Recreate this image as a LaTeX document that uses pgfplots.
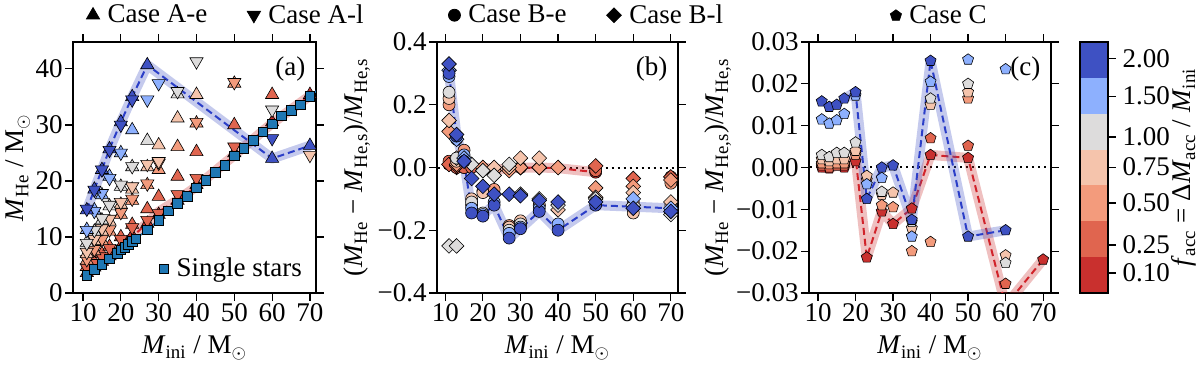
\documentclass[border=0pt]{standalone}
\usepackage{fontspec}
\setmainfont{Liberation Serif}
\usepackage{pgfplots}
\pgfplotsset{compat=1.18}

\definecolor{c010}{HTML}{C9302E}
\definecolor{c025}{HTML}{E0654F}
\definecolor{c050}{HTML}{F39B7C}
\definecolor{c075}{HTML}{F5C4AC}
\definecolor{c100}{HTML}{DDDCDC}
\definecolor{c150}{HTML}{8DB0FE}
\definecolor{c200}{HTML}{3E51C3}
\definecolor{dashB}{HTML}{2B3EC8}
\definecolor{dashR}{HTML}{D1232A}
\definecolor{single}{HTML}{1F77B4}

\pgfplotsset{
  every axis/.append style={font=\fontsize{13.5}{15.5}\selectfont},
  panel/.style={scale only axis, width=#1, height=125.5pt,
    xtick={10,20,...,70}, tick align=outside,
    axis line style={line width=0.6pt}, every tick/.style={black, line width=0.6pt},
    major tick length=3.8pt, scaled ticks=false,
    every tick label/.append style={inner sep=1.2pt},
    /pgf/number format/assume math mode=true,
    xlabel={\textit{M}\textsubscript{ini} / M$_\odot$},
    xlabel style={at={(axis description cs:0.5,-0.219)}, anchor=center},
    legend columns=2, legend cell align=left,
    legend style={draw=none, fill=none, anchor=south west,
      /tikz/column 1/.style={column sep=2pt},
      /tikz/column 2/.style={column sep=18pt},
      /tikz/column 3/.style={column sep=2pt}}},
  ae/.style={forget plot, only marks, mark=triangle*, mark size=3.8pt,
    mark options={fill=#1, draw=black, line width=0.3pt}},
  al/.style={forget plot, only marks, mark=triangle*, mark size=3.8pt,
    mark options={rotate=180, fill=#1, draw=black, line width=0.3pt}},
  be/.style={forget plot, only marks, mark=*, mark size=3pt,
    mark options={fill=#1, draw=black, line width=0.3pt}},
  bl/.style={forget plot, only marks, mark=square*, mark size=2.6pt,
    mark options={rotate=45, fill=#1, draw=black, line width=0.3pt}},
  cp/.style={forget plot, only marks, mark=pentagon*, mark size=2.9pt,
    mark options={fill=#1, draw=black, line width=0.3pt}},
  band/.style={forget plot, no markers, line width=5pt, draw=#1, draw opacity=0.3, line join=round},
  dline/.style={forget plot, no markers, line width=1pt, draw=#1, dash pattern=on 3.5pt off 2pt},
}

\begin{document}
\begin{tikzpicture}

% ---------- (a) ----------
\begin{axis}[panel=121.5pt, at={(0,0)}, xmin=7.35, xmax=71.6, ymin=0, ymax=44.8,
  ytick={0,10,20,30,40}, ylabel={\textit{M}\textsubscript{He} / M$_\odot$},
  ylabel style={at={(axis description cs:-0.226,0.5)}, anchor=center},
  legend columns=1,
  legend style={at={(0.985,0.02)}, anchor=south east}]
\addplot[band=c010] coordinates {(11,3.3) (13,4.3) (15,5.3) (17,6.3) (20,8.0) (23,10.0) (27,12.5) (30,14.5) (35,16.6) (40,19.0) (50,24.6) (60,30.3) (70,35.2)};
\addplot[dline=dashR] coordinates {(11,3.3) (13,4.3) (15,5.3) (17,6.3) (20,8.0) (23,10.0) (27,12.5) (30,14.5) (35,16.6) (40,19.0) (50,24.6) (60,30.3) (70,35.2)};
\addplot[band=c200] coordinates {(11,14.8) (13,18.5) (15,22) (17,25.7) (20,30.5) (23,35) (27,40.7) (60,24) (70,26.3)};
\addplot[dline=dashB] coordinates {(11,14.8) (13,18.5) (15,22) (17,25.7) (20,30.5) (23,35) (27,40.7) (60,24) (70,26.3)};

\addplot[ae=c010] coordinates {(11,3.6) (13,4.6) (15,5.6) (17,6.6) (20,8.3) (23,10.2) (27,12.4) (30,14) (35,16.5) (40,19.3) (50,25) (60,30.5) (70,35.4)};
\addplot[ae=c025] coordinates {(11,4.7) (13,5.6) (15,7) (17,8.3) (20,10) (23,12.2) (27,15) (30,17.2) (35,20.8) (40,25.2) (50,30) (60,35.4)};
\addplot[al=c025] coordinates {(11,4.5) (13,5.3) (15,6.5) (17,8) (20,9.6) (23,11.7) (27,13) (30,14.2) (35,17.6) (40,20.5) (50,26.1)};
\addplot[ae=c050] coordinates {(11,5.8) (13,7.5) (15,9.3) (17,11) (20,14) (23,16.5) (27,19.3) (30,22) (35,26.1) (40,30.3) (50,37.4)};
\addplot[al=c050] coordinates {(11,6) (13,7.8) (15,9.6) (17,11.3) (20,14.4) (23,16.8) (27,19.5) (30,23.2) (40,30.5) (50,37.6)};
\addplot[ae=c075] coordinates {(11,7) (13,9.3) (15,11) (17,12.8) (20,15.8) (23,18.5) (27,22.5) (30,26.4) (35,31.2) (40,35.4)};
\addplot[al=c075] coordinates {(11,7.3) (13,9.6) (15,11.5) (17,13.2) (20,16.2) (23,19) (27,23) (30,23.5) (70,24.6)};
\addplot[ae=c100] coordinates {(11,9) (13,11) (15,13) (17,15.5) (20,19) (23,22.5) (27,27.2) (35,35.5)};
\addplot[al=c100] coordinates {(11,8.9) (13,11.2) (15,13.3) (17,15.7) (20,19.3) (23,22.6) (35,36) (40,41.3) (60,32.7)};
\addplot[ae=c150] coordinates {(11,11.3) (13,14.8) (15,17.5) (17,20.8) (20,25) (23,29.1)};
\addplot[al=c150] coordinates {(11,11.2) (13,14.6) (15,17.8) (17,20.5) (20,25) (27,34.5) (30,37.4)};
\addplot[ae=c200] coordinates {(11,14.8) (13,18.5) (15,22) (17,25.7) (20,30.5) (23,35) (27,40.7) (60,24) (70,26.3)};
\addplot[al=c200] coordinates {(11,15) (13,18.4) (15,22) (17,25.5) (20,30) (23,34.5) (60,27.6)};

\addplot[forget plot, no markers, draw=single, line width=0.8pt] coordinates {(11,3.2) (13,4.2) (15,5.1) (17,6.1) (19,7.1) (20,7.7) (21,8.2) (22,8.7) (23,9.2) (24,9.7) (27,11.3) (30,13.0) (32.5,14.7) (35,16.0) (37.5,17.3) (40,18.8) (42.5,20.1) (45,21.5) (47.5,22.8) (50,24.5) (52.5,25.8) (55,27.2) (57.5,28.8) (60,30.2) (62.5,31.6) (65,32.6) (67.5,33.6) (70,35.1) (72.5,36.5)};
\addplot[only marks, mark=square*, mark size=2.4pt, mark options={fill=single, draw=black, line width=0.3pt}] coordinates {(11,3.2) (13,4.2) (15,5.1) (17,6.1) (19,7.1) (20,7.7) (21,8.2) (22,8.7) (23,9.2) (24,9.7) (27,11.3) (30,13.0) (32.5,14.7) (35,16.0) (37.5,17.3) (40,18.8) (42.5,20.1) (45,21.5) (47.5,22.8) (50,24.5) (52.5,25.8) (55,27.2) (57.5,28.8) (60,30.2) (62.5,31.6) (65,32.6) (67.5,33.6) (70,35.1) (72.5,36.5)};
\addlegendentry{Single stars}
\node[anchor=north east] at (rel axis cs:0.985,0.97) {(a)};
\end{axis}
\begin{axis}[panel=121.5pt, at={(0,0)}, xmin=7.35, xmax=71.6, ymin=0, ymax=44.8, hide axis,
  legend style={at={(0.029,1.03)}}]
\addlegendimage{only marks, mark=triangle*, mark size=3.8pt, black}
\addlegendentry{Case A-e}
\addlegendimage{only marks, mark=triangle*, mark size=3.8pt, black, mark options={rotate=180}}
\addlegendentry{Case A-l}
\end{axis}

% ---------- (b) ----------
\begin{axis}[panel=120.5pt, at={(182pt,0)}, xmin=7.8, xmax=71.9, ymin=-0.4, ymax=0.4,
  ytick={-0.4,-0.2,0,0.2,0.4}, yticklabels={−0.4,−0.2,0.0,0.2,0.4},
  ylabel={(\textit{M}\textsubscript{He} − \textit{M}\textsubscript{He,s})/\textit{M}\textsubscript{He,s}},
  ylabel style={at={(axis description cs:-0.332,0.5)}, anchor=center},
  legend style={at={(0.021,1.03)}}]
\addlegendimage{only marks, mark=*, mark size=3pt, black}
\addlegendentry{Case B-e}
\addlegendimage{only marks, mark=square*, mark size=2.6pt, black, mark options={rotate=45}}
\addlegendentry{Case B-l}
\addplot[forget plot, black, dotted, line width=1pt] coordinates {(0,0) (80,0)};
\addplot[band=c010] coordinates {(11,0.01) (13,0.0) (15,0.0) (17,0.0) (20,0.0) (23,-0.005) (27,-0.005) (30,0.0) (35,0.0) (40,-0.002) (50,-0.015)};
\addplot[dline=dashR] coordinates {(11,0.01) (13,0.0) (15,0.0) (17,0.0) (20,0.0) (23,-0.005) (27,-0.005) (30,0.0) (35,0.0) (40,-0.002) (50,-0.015)};
\addplot[band=c200] coordinates {(11,0.30) (13,0.10) (15,0.02) (17,-0.14) (20,-0.15) (23,-0.12) (27,-0.225) (30,-0.195) (35,-0.14) (40,-0.20) (50,-0.12) (60,-0.125) (70,-0.13)};
\addplot[dline=dashB] coordinates {(11,0.30) (13,0.10) (15,0.02) (17,-0.14) (20,-0.15) (23,-0.12) (27,-0.225) (30,-0.195) (35,-0.14) (40,-0.20) (50,-0.12) (60,-0.125) (70,-0.13)};

\addplot[be=c010] coordinates {(11,0.01) (13,0.0) (15,0.0) (50,-0.015)};
\addplot[bl=c010] coordinates {(11,0.01) (13,0.0)};
\addplot[be=c025] coordinates {(11,0.02) (13,0.0) (15,0.0) (17,0.0) (20,-0.005) (23,-0.005) (27,-0.005) (30,0.0) (50,-0.01) (70,-0.03)};
\addplot[bl=c025] coordinates {(11,0.01) (13,0.005) (20,0.0) (23,0.0) (27,0.0) (30,0.0) (35,0.0) (40,0.0) (50,0.005) (60,-0.035) (70,-0.03)};
\addplot[be=c050] coordinates {(11,0.20) (15,0.055) (17,-0.12) (20,-0.075) (23,-0.07) (27,-0.185) (30,-0.18) (35,-0.12) (50,-0.10) (60,-0.11) (70,-0.05)};
\addplot[bl=c050] coordinates {(11,0.115) (13,0.01) (20,0.0) (23,-0.01) (27,-0.01) (30,0.0) (35,0.0) (40,0.0) (50,-0.065) (60,-0.06) (70,-0.04)};
\addplot[be=c075] coordinates {(11,0.22) (13,0.02) (17,-0.10) (20,-0.08) (27,-0.19) (30,-0.17) (35,-0.12) (60,-0.145) (70,-0.12)};
\addplot[bl=c075] coordinates {(11,0.15) (13,0.03) (23,0.0) (27,0.0) (30,0.03) (35,0.03) (40,-0.135) (50,-0.095) (60,-0.08) (70,-0.11)};
\addplot[be=c100] coordinates {(11,0.24) (13,0.03) (17,-0.11) (20,-0.145) (27,-0.2) (30,-0.18)};
\addplot[bl=c100] coordinates {(11,-0.25) (13,-0.25) (17,0.01) (20,-0.01) (23,-0.025) (27,0.01) (30,-0.085) (35,-0.10) (40,-0.12) (50,-0.10) (60,-0.12) (70,-0.15)};
\addplot[be=c150] coordinates {(11,0.29) (13,0.09) (15,0.04) (17,-0.13) (20,-0.15) (23,-0.11) (27,-0.21) (30,-0.19) (35,-0.13) (40,-0.18) (50,-0.11)};
\addplot[bl=c150] coordinates {(11,0.31) (13,0.09) (15,0.03) (60,-0.10) (70,-0.13)};
\addplot[be=c200] coordinates {(11,0.30) (13,0.10) (15,0.02) (17,-0.145) (20,-0.155) (23,-0.12) (27,-0.225) (30,-0.195) (35,-0.14) (40,-0.2) (50,-0.12)};
\addplot[bl=c200] coordinates {(11,0.33) (13,0.105) (15,0.02) (17,-0.035) (20,-0.06) (23,-0.085) (27,-0.085) (30,-0.09) (35,-0.105) (40,-0.11) (50,-0.11) (60,-0.13) (70,-0.14)};
\node[anchor=north east] at (rel axis cs:0.985,0.97) {(b)};
\end{axis}

% ---------- (c) ----------
\begin{axis}[panel=121pt, at={(368pt,0)}, xmin=7.6, xmax=72.1, ymin=-0.03, ymax=0.03,
  ytick={-0.03,-0.02,-0.01,0,0.01,0.02,0.03},
  yticklabels={−0.03,−0.02,−0.01,0.00,0.01,0.02,0.03},
  ylabel={(\textit{M}\textsubscript{He} − \textit{M}\textsubscript{He,s})/\textit{M}\textsubscript{He,s}},
  ylabel style={at={(axis description cs:-0.376,0.5)}, anchor=center},
  legend style={at={(0.31,1.03)}}]
\addlegendimage{only marks, mark=pentagon*, mark size=2.9pt, black}
\addlegendentry{Case C}
\addplot[forget plot, black, dotted, line width=1pt] coordinates {(0,0) (80,0)};
\addplot[band=c010] coordinates {(11,0.0) (13,-0.0002) (15,0.0005) (17,0.0) (20,0.0025) (23,-0.0215) (27,-0.0105) (30,-0.0135) (35,-0.0098) (40,0.003) (50,0.0023) (60,-0.033) (70,-0.022)};
\addplot[dline=dashR] coordinates {(11,0.0) (13,-0.0002) (15,0.0005) (17,0.0) (20,0.0025) (23,-0.0215) (27,-0.0105) (30,-0.0135) (35,-0.0098) (40,0.003) (50,0.0023) (60,-0.033) (70,-0.022)};
\addplot[band=c200] coordinates {(17,0.0165) (20,0.018) (23,-0.0075) (27,0.0) (30,0.0005) (35,-0.0125) (40,0.0255) (50,-0.0165) (60,-0.015)};
\addplot[dline=dashB] coordinates {(17,0.0165) (20,0.018) (23,-0.0075) (27,0.0) (30,0.0005) (35,-0.0125) (40,0.0255) (50,-0.0165) (60,-0.015)};

\addplot[cp=c010] coordinates {(11,0.0) (13,-0.0002) (15,0.0005) (17,0.0) (20,0.0015) (23,-0.0215) (27,-0.0105) (30,-0.0135) (35,-0.0098) (40,0.003) (50,0.0023) (70,-0.022)};
\addplot[cp=c025] coordinates {(11,0.0005) (13,0.0) (15,0.0005) (17,0.0005) (20,0.0035) (40,0.007) (50,0.0052) (60,-0.0278)};
\addplot[cp=c050] coordinates {(11,0.001) (13,0.0008) (15,0.001) (17,0.001) (20,0.003) (23,-0.003) (27,-0.009) (30,-0.0095) (35,-0.02) (40,-0.0178) (50,0.0165)};
\addplot[cp=c075] coordinates {(11,0.002) (13,0.0015) (15,0.002) (17,0.002) (20,0.004) (23,-0.002) (27,-0.0065) (30,-0.006) (35,-0.0145) (40,0.015) (50,0.018) (60,-0.021)};
\addplot[cp=c100] coordinates {(11,0.003) (13,0.0025) (15,0.0035) (17,0.0035) (20,0.006) (27,-0.0058) (35,-0.013) (40,0.0165) (50,0.02) (60,-0.0228)};
\addplot[cp=c150] coordinates {(11,0.0115) (13,0.0105) (15,0.0113) (17,0.0128) (20,0.0172) (23,-0.004) (27,-0.0025) (35,-0.0165) (40,0.0205) (50,0.0258) (60,0.0235)};
\addplot[cp=c200] coordinates {(11,0.0158) (13,0.0145) (15,0.015) (17,0.0165) (20,0.018) (23,-0.0075) (27,0.0) (30,0.0005) (35,-0.0125) (40,0.0255) (50,-0.0165) (60,-0.015)};
\node[anchor=north east] at (rel axis cs:0.985,0.97) {(c)};
\end{axis}

% ---------- colour bar ----------
\begin{axis}[at={(503.5pt,0)}, scale only axis, width=14pt, height=125.5pt,
  xmin=0, xmax=1, ymin=0, ymax=7, xtick=\empty,
  ytick={0.56,1.34,2.51,3.51,4.35,5.49,6.53},
  yticklabels={0.10,0.25,0.50,0.75,1.00,1.50,2.00},
  yticklabel pos=right, ytick pos=right, tick align=outside,
  major tick length=3.8pt, every tick/.style={black, line width=0.6pt},
  axis line style={line width=0.8pt}, axis on top,
  ylabel={\textit{f}\textsubscript{acc} = Δ\textit{M}\textsubscript{acc} / \textit{M}\textsubscript{ini}},
  ylabel style={at={(axis description cs:3.72,0.5)}, anchor=center}]
\addplot[fill=c010, draw=none] coordinates {(0,0) (1,0) (1,1) (0,1)} -- cycle;
\addplot[fill=c025, draw=none] coordinates {(0,1) (1,1) (1,2) (0,2)} -- cycle;
\addplot[fill=c050, draw=none] coordinates {(0,2) (1,2) (1,3) (0,3)} -- cycle;
\addplot[fill=c075, draw=none] coordinates {(0,3) (1,3) (1,4) (0,4)} -- cycle;
\addplot[fill=c100, draw=none] coordinates {(0,4) (1,4) (1,5) (0,5)} -- cycle;
\addplot[fill=c150, draw=none] coordinates {(0,5) (1,5) (1,6) (0,6)} -- cycle;
\addplot[fill=c200, draw=none] coordinates {(0,6) (1,6) (1,7) (0,7)} -- cycle;
\end{axis}

\pgfresetboundingbox
\path[use as bounding box] (-36.5pt,-37pt) rectangle (563.5pt,146.5pt);
\end{tikzpicture}
\end{document}
